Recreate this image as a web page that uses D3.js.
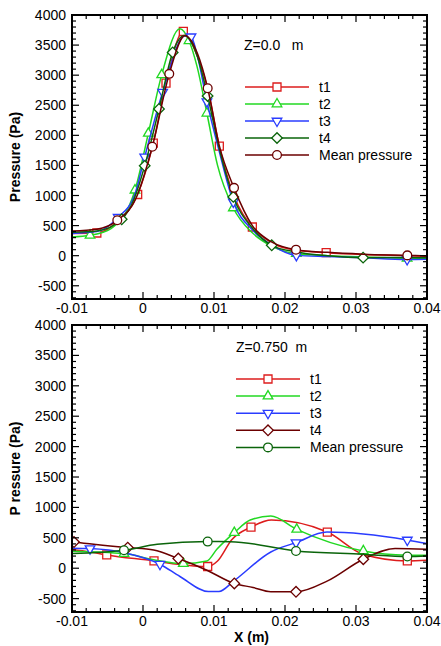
<!DOCTYPE html>
<html>
<head>
<meta charset="utf-8">
<script src="https://cdn.jsdelivr.net/npm/d3@7"></script>
<style>
  body { margin: 0; background: #fff; }
  svg text { font-family: "Liberation Sans", Arial, sans-serif; }
</style>
</head>
<body>
<svg id="chart" width="441" height="646"></svg>
<script>
// axis ticks
const xTicks = [-0.01, 0, 0.01, 0.02, 0.03, 0.04];
const xTickLabels = ['-0.01', '0', '0.01', '0.02', '0.03', '0.04'];
const yTicks = [-500, 0, 500, 1000, 1500, 2000, 2500, 3000, 3500, 4000];
const seriesNames = ['t1', 't2', 't3', 't4', 'Mean pressure'];

// top panel, Z = 0.0 m : points with symbols, plus points only on the line
const topT1Marks = [[-0.0065, 377], [-0.00075, 1017], [0.00145, 1870], [0.00324, 2867], [0.00568, 3727], [0.01075, 1822], [0.0154, 477], [0.0258, 50]];
const topT1Extra = [[-0.01, 370], [-0.0036, 570], [0.0076, 3330], [0.0092, 2740], [0.0128, 1000], [0.0181, 215], [0.0216, 90], [0.031, 20], [0.0372, 0], [0.04, -10]];
const topT2Marks = [[-0.00746, 338], [-0.00113, 1088], [0.00075, 2033], [0.00263, 3005], [0.00648, 3572], [0.009, 2367], [0.01272, 793], [0.0216, 33], [0.0372, -45]];
const topT2Extra = [[-0.01, 310], [-0.0045, 450], [0.0052, 3770], [0.0076, 3150], [0.0105, 1500], [0.0154, 380], [0.0181, 160], [0.026, 0], [0.031, -20], [0.04, -50]];
const topT3Marks = [[-0.0035, 640], [0.00024, 1643], [0.00277, 2717], [0.00676, 3638], [0.009, 2560], [0.01272, 893], [0.0216, 5], [0.0372, -62]];
const topT3Extra = [[-0.01, 370], [-0.0065, 400], [-0.0012, 1000], [0.0059, 3650], [0.0077, 3300], [0.0107, 1750], [0.0154, 430], [0.0181, 180], [0.026, -15], [0.031, -35], [0.04, -60]];
const topT4Marks = [[-0.003, 605], [0.00024, 1493], [0.00225, 2438], [0.00418, 3377], [0.0091, 2655], [0.01272, 977], [0.01813, 172], [0.031, -33]];
const topT4Extra = [[-0.01, 390], [-0.0065, 410], [-0.0012, 960], [0.0058, 3660], [0.0076, 3330], [0.0107, 1800], [0.0154, 460], [0.0216, 60], [0.026, 0], [0.0372, -30], [0.04, -35]];
const topMeanMarks = [[-0.00362, 588], [0.00131, 1810], [0.0037, 3022], [0.00911, 2783], [0.01282, 1127], [0.02155, 100], [0.03723, 5]];
const topMeanExtra = [[-0.01, 410], [-0.0065, 440], [-0.001, 950], [0.0059, 3660], [0.0077, 3350], [0.0107, 1850], [0.0154, 500], [0.0181, 230], [0.026, 55], [0.031, 25], [0.04, -5]];

// bottom panel, Z = 0.750 m
const botT1Marks = [[-0.00511, 218], [0.00155, 120], [0.00911, 28], [0.01521, 677], [0.02596, 595], [0.03723, 120]];
const botT1Extra = [[-0.01, 310], [-0.0075, 270], [0.0045, 70], [0.0105, 120], [0.0125, 470], [0.0181, 792], [0.031, 230], [0.04, 131]];
const botT2Marks = [[-0.00268, 241], [0.00568, 77], [0.01286, 585], [0.02165, 639], [0.03103, 284]];
const botT2Extra = [[-0.01, 280], [0.0015, 140], [0.009, 120], [0.0104, 311], [0.0151, 792], [0.018, 857], [0.0372, 215], [0.04, 213]];
const botT3Marks = [[-0.00746, 323], [0.00239, 66], [0.02155, 421], [0.03723, 464]];
const botT3Extra = [[-0.01, 330], [-0.0025, 250], [0.0052, -136], [0.0092, -382], [0.0107, -382], [0.0128, -208], [0.018, 267], [0.0259, 595], [0.04, 405]];
const botT4Marks = [[-0.00972, 431], [-0.00215, 339], [0.00497, 159], [0.01286, -251], [0.02155, -388], [0.03103, 148]];
const botT4Extra = [[-0.01, 435], [0.0015, 300], [0.009, -33], [0.0155, -317], [0.018, -388], [0.026, -208], [0.0355, 323], [0.04, 311]];
const botMeanMarks = [[-0.00268, 295], [0.00911, 438], [0.02155, 284], [0.03723, 192]];
const botMeanExtra = [[-0.01, 241], [0.002, 393], [0.0123, 437], [0.031, 230], [0.04, 202]];

const svg = d3.select('#chart');

// symbol paths
const sym = {
  square: d3.symbol(d3.symbolSquare, 64)(),
  triUp: d3.symbol(d3.symbolTriangle, 40)(),
  triDown: d3.symbol(d3.symbolTriangle, 40)(),
  diamond: d3.symbol(d3.symbolSquare, 56)(),
  circle: d3.symbol(d3.symbolCircle, 60)()
};
const symRot = { square: 0, triUp: 0, triDown: 180, diamond: 45, circle: 0 };

function drawPanel(cfg) {
  const x = d3.scaleLinear().domain([-0.01, 0.04]).range([cfg.left, cfg.right]);
  const y = d3.scaleLinear().domain([-720, 4000]).range([cfg.bottom, cfg.top]);
  const g = svg.append('g');

  // clip
  const clipId = 'clip' + cfg.id;
  svg.append('clipPath').attr('id', clipId).append('rect')
    .attr('x', cfg.left).attr('y', cfg.top)
    .attr('width', cfg.right - cfg.left).attr('height', cfg.bottom - cfg.top);

  const plot = g.append('g').attr('clip-path', `url(#${clipId})`);
  const line = d3.line().x(d => x(d[0])).y(d => y(d[1])).curve(d3.curveMonotoneX);

  cfg.series.forEach((s, i) => {
    const pts = [...s.marks, ...s.extra].sort((a, b) => a[0] - b[0]);
    plot.append('path')
      .attr('d', line(pts))
      .attr('fill', 'none')
      .attr('stroke', s.color)
      .attr('stroke-width', 1.5);
    plot.selectAll(null)
      .data(s.marks)
      .join('path')
      .attr('d', sym[s.symbol])
      .attr('transform', d => `translate(${x(d[0])},${y(d[1])}) rotate(${symRot[s.symbol]})`)
      .attr('fill', '#fff')
      .attr('stroke', s.color)
      .attr('stroke-width', 1.3);
  });

  // ticks on all four sides, pointing inward
  const xMinor = d3.range(-0.01, 0.0401, 0.002);
  const yMinor = d3.range(-700, 4001, 100);
  const tk = g.append('g').attr('stroke', '#000').attr('stroke-width', 1.2);
  xMinor.forEach(v => {
    const major = xTicks.some(t => Math.abs(t - v) < 1e-6);
    const len = major ? 7 : 4;
    tk.append('line').attr('x1', x(v)).attr('x2', x(v)).attr('y1', cfg.bottom).attr('y2', cfg.bottom - len);
    tk.append('line').attr('x1', x(v)).attr('x2', x(v)).attr('y1', cfg.top).attr('y2', cfg.top + len);
  });
  yMinor.forEach(v => {
    const major = v % 500 === 0;
    const len = major ? 7 : 4;
    tk.append('line').attr('y1', y(v)).attr('y2', y(v)).attr('x1', cfg.left).attr('x2', cfg.left + len);
    tk.append('line').attr('y1', y(v)).attr('y2', y(v)).attr('x1', cfg.right).attr('x2', cfg.right - len);
  });

  g.append('rect')
    .attr('x', cfg.left).attr('y', cfg.top)
    .attr('width', cfg.right - cfg.left).attr('height', cfg.bottom - cfg.top)
    .attr('fill', 'none').attr('stroke', '#000').attr('stroke-width', 2);

  // tick labels
  g.selectAll(null).data(yTicks).join('text')
    .attr('x', cfg.left - 6).attr('y', d => y(d) + 5)
    .attr('text-anchor', 'end').attr('font-size', 14)
    .text(d => d);
  g.selectAll(null).data(xTicks).join('text')
    .attr('x', d => x(d)).attr('y', cfg.bottom + 14)
    .attr('text-anchor', 'middle').attr('font-size', 14)
    .text((d, i) => xTickLabels[i]);

  // y title
  const cy = (cfg.top + cfg.bottom) / 2;
  g.append('text')
    .attr('transform', `translate(20,${cy}) rotate(-90)`)
    .attr('text-anchor', 'middle').attr('font-size', 14).attr('font-weight', 'bold')
    .text(cfg.yTitle);

  // Z label
  g.append('text')
    .attr('x', cfg.zx).attr('y', cfg.zy)
    .attr('font-size', 14).style('white-space', 'pre')
    .text(cfg.zText);

  // legend
  const lg = g.append('g');
  cfg.series.forEach((s, i) => {
    const ly = cfg.legY + i * cfg.legStep;
    lg.append('line')
      .attr('x1', cfg.legX).attr('x2', cfg.legX + 64)
      .attr('y1', ly).attr('y2', ly)
      .attr('stroke', s.color).attr('stroke-width', 1.5);
    lg.append('path')
      .attr('d', sym[s.symbol])
      .attr('transform', `translate(${cfg.legX + 32},${ly}) rotate(${symRot[s.symbol]})`)
      .attr('fill', '#fff').attr('stroke', s.color).attr('stroke-width', 1.3);
    lg.append('text')
      .attr('x', cfg.legX + 74).attr('y', ly + 5)
      .attr('font-size', 14)
      .text(seriesNames[i]);
  });

  if (cfg.xTitle) {
    g.append('text')
      .attr('x', (cfg.left + cfg.right) / 2 + 2).attr('y', cfg.bottom + 30)
      .attr('text-anchor', 'middle').attr('font-size', 14).attr('font-weight', 'bold')
      .text(cfg.xTitle);
  }
}

drawPanel({
  id: 'top', left: 72, right: 427, top: 15, bottom: 299,
  yTitle: 'Pressure (Pa)', zText: 'Z=0.0   m', zx: 244, zy: 50,
  legX: 245, legY: 87, legStep: 17,
  series: [
    { marks: topT1Marks, extra: topT1Extra, color: '#dd1c1c', symbol: 'square' },
    { marks: topT2Marks, extra: topT2Extra, color: '#22d822', symbol: 'triUp' },
    { marks: topT3Marks, extra: topT3Extra, color: '#2a3cff', symbol: 'triDown' },
    { marks: topT4Marks, extra: topT4Extra, color: '#0a640a', symbol: 'diamond' },
    { marks: topMeanMarks, extra: topMeanExtra, color: '#6b0000', symbol: 'circle' }
  ]
});

drawPanel({
  id: 'bot', left: 72, right: 427, top: 325, bottom: 612,
  yTitle: 'P ressure (Pa)', xTitle: 'X (m)', zText: 'Z=0.750  m', zx: 236, zy: 352,
  legX: 236, legY: 379, legStep: 17.1,
  series: [
    { marks: botT1Marks, extra: botT1Extra, color: '#dd1c1c', symbol: 'square' },
    { marks: botT2Marks, extra: botT2Extra, color: '#22d822', symbol: 'triUp' },
    { marks: botT3Marks, extra: botT3Extra, color: '#2a3cff', symbol: 'triDown' },
    { marks: botT4Marks, extra: botT4Extra, color: '#6b0000', symbol: 'diamond' },
    { marks: botMeanMarks, extra: botMeanExtra, color: '#0a640a', symbol: 'circle' }
  ]
});
</script>
</body>
</html>
